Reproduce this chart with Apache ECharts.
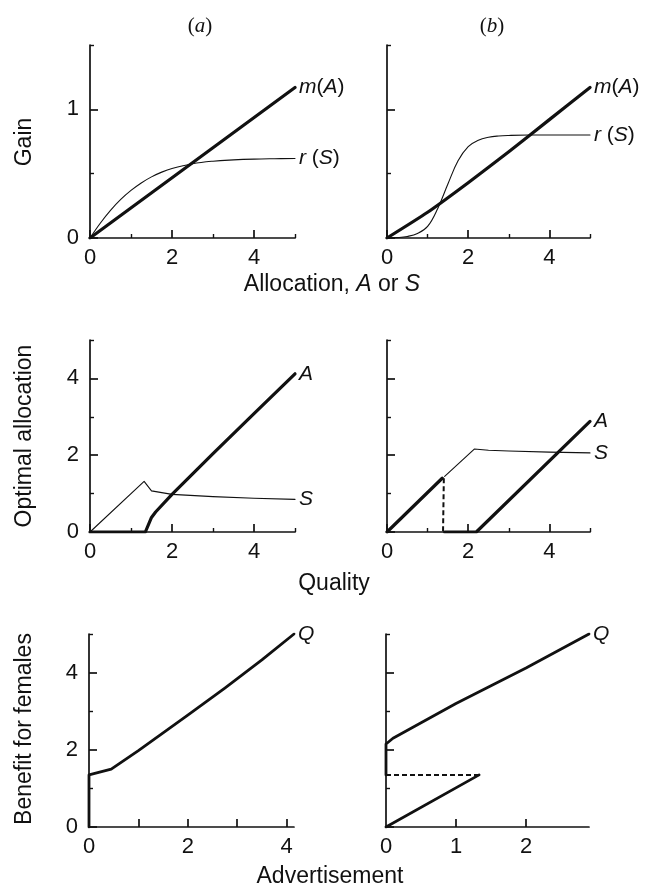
<!DOCTYPE html>
<html>
<head>
<meta charset="utf-8">
<script src="https://cdn.jsdelivr.net/npm/echarts@6/dist/echarts.min.js"></script>
<style>
  html, body { margin: 0; padding: 0; background: #fff; }
  #chart { width: 654px; height: 891px; }
</style>
</head>
<body>
<div id="chart"></div>
<script>
// ---- data ----
// top row: gain vs allocation
const gainM_a = [[0, 0], [5, 1.17]];
const gainR_a = [[0, 0], [0.25, 0.115], [0.5, 0.215], [0.75, 0.3], [1, 0.37], [1.25, 0.428], [1.5, 0.475],
  [1.75, 0.512], [2, 0.54], [2.5, 0.577], [3, 0.597], [3.5, 0.607], [4, 0.613], [4.5, 0.616], [5, 0.618]];
const gainM_b = [[0, 0], [1, 0.2], [2, 0.43], [3, 0.67], [4, 0.92], [5, 1.17]];
const gainR_b = [[0, 0], [0.25, 0.003], [0.5, 0.012], [0.75, 0.035], [1, 0.09], [1.25, 0.23], [1.5, 0.42],
  [1.75, 0.6], [2, 0.71], [2.25, 0.76], [2.5, 0.783], [2.75, 0.793], [3, 0.797], [3.5, 0.8], [4, 0.8], [5, 0.8]];

// middle row: optimal allocation vs quality
const optS_a = [[0, 0], [1.32, 1.32], [1.5, 1.07], [2, 0.98], [3, 0.92], [4, 0.88], [5, 0.85]];
const optA_a = [[0, 0], [1.35, 0], [1.5, 0.38], [1.6, 0.52], [2, 0.98], [3, 2.04], [4, 3.08], [5, 4.12]];
const optA_b1 = [[0, 0], [1.36, 1.4]];
const optJump_b = [[1.4, 1.4], [1.38, 0]];
const optA_b2 = [[1.42, 0], [2.2, 0], [5, 2.88]];
const optS_b = [[1.42, 1.45], [2.15, 2.16], [2.5, 2.13], [3, 2.11], [4, 2.08], [5, 2.06]];

// bottom row: benefit for females vs advertisement
const benQ_a = [[0, 0], [0, 1.35], [0.45, 1.5], [1, 1.98], [2, 2.9], [2.75, 3.6], [3.5, 4.33], [4.15, 5]];
const benQ_b = [[0, 1.35], [0, 2.15], [0.1, 2.3], [1, 3.2], [2, 4.12], [2.9, 5]];
const benLow_b = [[0, 0], [1.33, 1.35]];
const benDash_b = [[0, 1.35], [1.33, 1.35]];

// ticks
const gainMajor = [0, 1], gainMinor = [0.5, 1.5];
const qMajor = [0, 2, 4], qMinor = [1, 3, 5];
const advTicks_a = [1, 2, 3, 4], advLabels_a = [0, 2, 4];
const advTicks_b = [1, 2], advLabels_b = [0, 1, 2];

const FONT = '"Liberation Sans", Arial, Helvetica, sans-serif';
const SERIF = '"Liberation Serif", "Times New Roman", serif';
const INK = '#111';

const grids = [
  {left: 90, top: 45, width: 205, height: 193},
  {left: 387, top: 45, width: 203, height: 193},
  {left: 90, top: 340, width: 205, height: 192},
  {left: 387, top: 340, width: 203, height: 192},
  {left: 89, top: 634, width: 205, height: 193},
  {left: 386, top: 634, width: 203, height: 193}
];

const xAxis = [], yAxis = [];

// one axis with the line + long ticks + labels, a second one with only short ticks
function addAxes(list, pos, gi, max, major, minor, labels) {
  list.push({
    type: 'value', gridIndex: gi, position: pos, min: 0, max: max,
    axisLine: {show: true, onZero: false, lineStyle: {color: INK, width: 1.7}},
    axisTick: {show: true, inside: true, length: 8, customValues: major, lineStyle: {color: INK, width: 1.7}},
    axisLabel: {show: !!labels, customValues: labels || [], color: INK, fontSize: 22, fontFamily: FONT,
      margin: pos === 'left' ? 11 : 9},
    splitLine: {show: false}
  });
  list.push({
    type: 'value', gridIndex: gi, position: pos, min: 0, max: max,
    axisLine: {show: false, onZero: false},
    axisTick: {show: minor.length > 0, inside: true, length: 4, customValues: minor, lineStyle: {color: INK, width: 1.4}},
    axisLabel: {show: false},
    splitLine: {show: false}
  });
}

addAxes(xAxis, 'bottom', 0, 5, qMajor, qMinor, qMajor);
addAxes(yAxis, 'left', 0, 1.5, gainMajor, gainMinor, gainMajor);
addAxes(xAxis, 'bottom', 1, 5, qMajor, qMinor, qMajor);
addAxes(yAxis, 'left', 1, 1.5, gainMajor, gainMinor, null);
addAxes(xAxis, 'bottom', 2, 5, qMajor, qMinor, qMajor);
addAxes(yAxis, 'left', 2, 5, qMajor, qMinor, qMajor);
addAxes(xAxis, 'bottom', 3, 5, qMajor, qMinor, qMajor);
addAxes(yAxis, 'left', 3, 5, qMajor, qMinor, null);
addAxes(xAxis, 'bottom', 4, 4.15, advTicks_a, [], advLabels_a);
addAxes(yAxis, 'left', 4, 5, qMajor, qMinor, qMajor);
addAxes(xAxis, 'bottom', 5, 2.9, advTicks_b, [], advLabels_b);
addAxes(yAxis, 'left', 5, 5, qMajor, qMinor, null);

const rich = {i: {fontStyle: 'italic', fontSize: 21, fontFamily: FONT, color: INK}, u: {fontSize: 21, fontFamily: FONT, color: INK}};

function line(gi, data, width, label, opts) {
  const s = {
    type: 'line', xAxisIndex: gi * 2, yAxisIndex: gi * 2, data: data,
    symbol: 'none', silent: true,
    lineStyle: {color: INK, width: width, cap: 'round', join: 'round'},
    z: 3
  };
  if (label) {
    s.endLabel = {show: true, formatter: label, distance: 4, rich: rich, color: INK, fontSize: 21, fontFamily: FONT};
  }
  return Object.assign(s, opts || {});
}

const curve = {smooth: 0.4};
const dashed = (w) => ({lineStyle: {color: INK, width: w, type: [5, 3]}});

const series = [
  line(0, gainM_a, 3.2, '{i|m}{u|(}{i|A}{u|)}'),
  line(0, gainR_a, 1.1, '{i|r}{u| (}{i|S}{u|)}', curve),
  line(1, gainM_b, 3.2, '{i|m}{u|(}{i|A}{u|)}', {smooth: 0.2}),
  line(1, gainR_b, 1.1, '{i|r}{u| (}{i|S}{u|)}', curve),

  line(2, optS_a, 1.1, '{i|S}'),
  line(2, optA_a, 3.2, '{i|A}'),
  line(3, optA_b1, 3.2),
  line(3, optJump_b, 2, null, dashed(2)),
  line(3, optA_b2, 3.2, '{i|A}'),
  line(3, optS_b, 1.1, '{i|S}'),

  line(4, benQ_a, 2.8, '{i|Q}'),
  line(5, benQ_b, 2.8, '{i|Q}'),
  line(5, benLow_b, 2.8),
  line(5, benDash_b, 2, null, dashed(2))
];

function txt(x, y, text, font, size, rot) {
  return {
    type: 'text', x: x, y: y, rotation: rot || 0, silent: true,
    style: {
      text: text, fill: INK, fontSize: size, fontFamily: font, textAlign: 'center', textVerticalAlign: 'middle',
      rich: {i: {fontStyle: 'italic', fontSize: size, fontFamily: font, fill: INK}}
    }
  };
}

const graphic = [
  txt(200, 26, '({i|a})', SERIF, 21),
  txt(492, 26, '({i|b})', SERIF, 21),
  txt(332, 285, 'Allocation, {i|A} or {i|S}', FONT, 23),
  txt(334, 584, 'Quality', FONT, 23),
  txt(330, 877, 'Advertisement', FONT, 23),
  txt(25, 142, 'Gain', FONT, 23, Math.PI / 2),
  txt(25, 436, 'Optimal allocation', FONT, 23, Math.PI / 2),
  txt(25, 729, 'Benefit for females', FONT, 23, Math.PI / 2)
];

const chart = echarts.init(document.getElementById('chart'), null, {renderer: 'canvas'});
chart.setOption({
  animation: false,
  backgroundColor: '#fff',
  grid: grids.map(g => Object.assign({outerBoundsMode: 'none', containLabel: false}, g)),
  xAxis: xAxis,
  yAxis: yAxis,
  series: series,
  graphic: graphic
});
</script>
</body>
</html>
